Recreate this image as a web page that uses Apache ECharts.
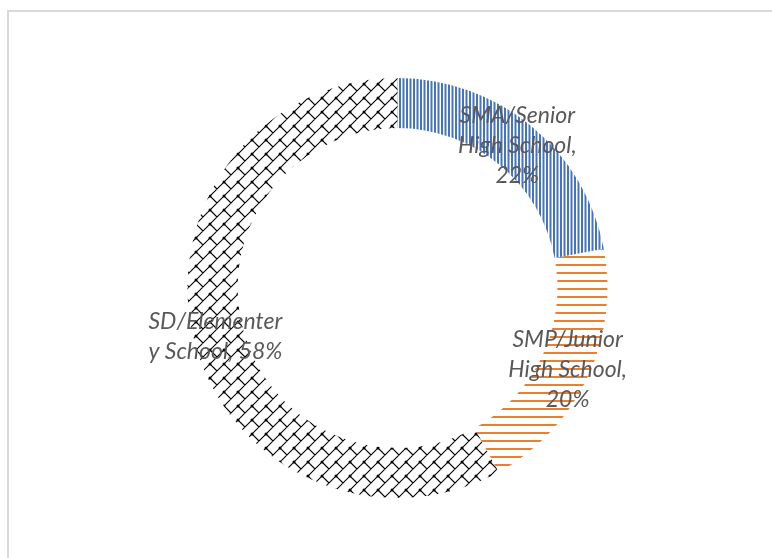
<!DOCTYPE html>
<html>
<head>
<meta charset="utf-8">
<script src="https://cdn.jsdelivr.net/npm/echarts@6/dist/echarts.min.js"></script>
<style>
  html, body { margin: 0; padding: 0; background: #fff; }
  #chart { width: 772px; height: 558px; }
</style>
</head>
<body>
<div id="chart"></div>
<script>
// Education level shares (percent), clockwise from 12 o'clock
const categories = ['SMA/Senior\nHigh School', 'SMP/Junior\nHigh School', 'SD/Elementer\ny School'];
const shares = [22, 20, 58];
// text placed between the name and the percentage in each label
const labelJoin = [',\n', ',\n', ', '];

// --- fill patterns -------------------------------------------------------
function verticalLines(color) {
  const c = document.createElement('canvas');
  c.width = 7; c.height = 4;
  const g = c.getContext('2d');
  g.fillStyle = color;
  g.fillRect(0, 0, 2, 4);
  g.fillRect(3.5, 0, 2, 4);
  return c;
}
function horizontalLines(color) {
  const c = document.createElement('canvas');
  c.width = 4; c.height = 8;
  const g = c.getContext('2d');
  g.fillStyle = color;
  g.fillRect(0, 0, 4, 2);
  return c;
}
function diagonalWeave(color) {
  const S = 14;        // row spacing measured along x+y
  const T = 2 * S;     // tile size
  const c = document.createElement('canvas');
  c.width = T; c.height = T;
  const g = c.getContext('2d');
  g.strokeStyle = color;
  g.fillStyle = color;
  g.lineWidth = 1.1;
  g.beginPath();
  // rows running up-right
  for (let s = -2 * T; s <= 4 * T; s += S) {
    g.moveTo(s + 2 * T, -2 * T);
    g.lineTo(s - 2 * T, 2 * T);
  }
  // joints between rows, staggered
  const knots = [];
  for (let r = -6; r <= 8; r++) {
    for (let m = -6; m <= 6; m++) {
      const d = T * m + S * (((r % 2) + 2) % 2);
      const s0 = S * r, s1 = S * r + S;
      g.moveTo((s0 + d) / 2, (s0 - d) / 2);
      g.lineTo((s1 + d) / 2, (s1 - d) / 2);
      knots.push([(s0 + d) / 2, (s0 - d) / 2]);
    }
  }
  g.stroke();
  // small knots where joints meet rows
  knots.forEach(([x, y]) => {
    g.beginPath();
    g.arc(x, y, 1.5, 0, Math.PI * 2);
    g.fill();
  });
  return c;
}

const fills = [
  { image: verticalLines('#4472C4'), repeat: 'repeat' },
  { image: horizontalLines('#ED7D31'), repeat: 'repeat' },
  { image: diagonalWeave('#000000'), repeat: 'repeat' }
];

const chart = echarts.init(document.getElementById('chart'), null, { renderer: 'canvas' });

chart.setOption({
  backgroundColor: '#ffffff',
  animation: false,
  graphic: [{
    type: 'rect',
    shape: { x: 8, y: 11, width: 800, height: 600 },
    style: { fill: 'none', stroke: '#d9d9d9', lineWidth: 2 },
    silent: true
  }],
  series: [{
    type: 'pie',
    center: [397.5, 288],
    radius: [160, 210],
    startAngle: 90,
    clockwise: true,
    avoidLabelOverlap: false,
    label: {
      show: true,
      position: 'inside',
      color: '#595959',
      fontFamily: 'Lato',
      fontStyle: 'italic',
      fontSize: 23,
      lineHeight: 30,
      align: 'center',
      offset: [0, 2],
      formatter: p => p.name + labelJoin[p.dataIndex] + p.value + '%'
    },
    labelLine: { show: false },
    itemStyle: { borderWidth: 0 },
    emphasis: { disabled: true },
    data: categories.map((name, i) => ({
      name,
      value: shares[i],
      itemStyle: { color: fills[i] }
    }))
  }]
});
</script>
</body>
</html>
